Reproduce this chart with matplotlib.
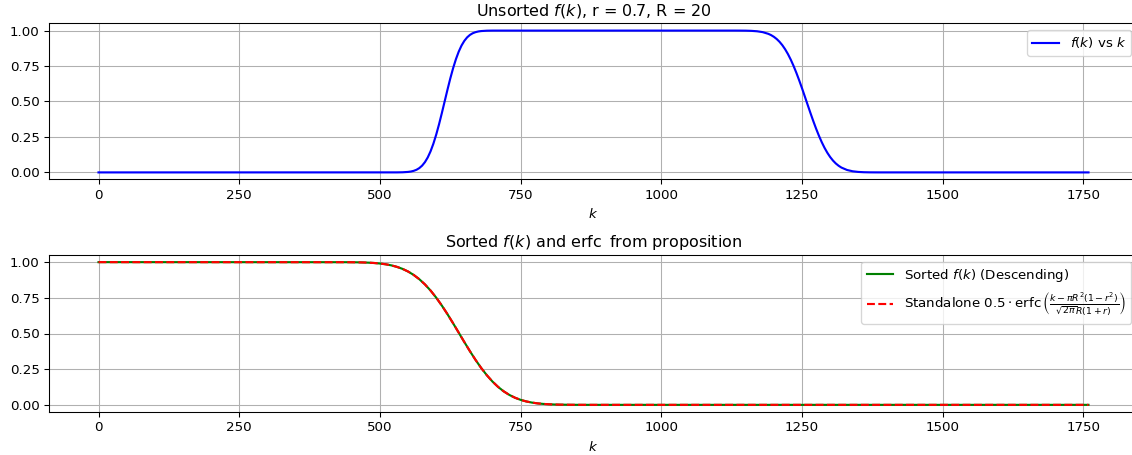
import matplotlib
matplotlib.use("Agg")
import matplotlib.pyplot as plt

# ---- data ----
top_k = [0,
         530, 540, 550, 555, 560, 565, 570, 575, 580, 585, 590, 595, 600, 605, 610,
         615, 620, 625, 630, 635, 640, 645, 650, 655, 660, 665, 670, 675, 680, 690,
         700,
         1130, 1140, 1150, 1160, 1170, 1180, 1190, 1195, 1200, 1205, 1210, 1215,
         1220, 1225, 1230, 1235, 1240, 1245, 1250, 1255, 1260, 1265, 1270, 1275,
         1280, 1285, 1290, 1295, 1300, 1305, 1310, 1315, 1320, 1330, 1340, 1350,
         1360, 1370, 1380, 1390,
         1759]
top_f = [0.0,
         0.0002, 0.0009, 0.0034, 0.0062, 0.0110, 0.0186, 0.0304, 0.0478, 0.0724,
         0.1056, 0.1488, 0.2024, 0.2660, 0.3384, 0.4176, 0.5000, 0.5824, 0.6616,
         0.7340, 0.7976, 0.8512, 0.8944, 0.9276, 0.9522, 0.9696, 0.9814, 0.9890,
         0.9938, 0.9966, 0.9991, 0.9998,
         0.9999, 0.9997, 0.9993, 0.9980, 0.9952, 0.9891, 0.9772, 0.9681, 0.9560,
         0.9405, 0.9210, 0.8971, 0.8682, 0.8342, 0.7950, 0.7505, 0.7016, 0.6488,
         0.5930, 0.5351, 0.4765, 0.4184, 0.3620, 0.3085, 0.2588, 0.2136, 0.1733,
         0.1383, 0.1084, 0.0835, 0.0631, 0.0469, 0.0341, 0.0171, 0.0079, 0.0034,
         0.0013, 0.0005, 0.0002, 0.0001,
         0.0]

sorted_k = [0, 440, 450, 460, 470, 480, 490, 500, 510, 520, 530, 540, 550, 560,
            570, 580, 590, 600, 610, 620, 630, 640, 650, 660, 670, 680, 690, 700,
            710, 720, 730, 740, 750, 760, 770, 780, 790, 800, 810, 820, 840, 860,
            880, 1759]
sorted_f = [1.0, 0.99957, 0.99923, 0.99866, 0.99772, 0.99622, 0.99388, 0.99033,
            0.98511, 0.97763, 0.96719, 0.95303, 0.93435, 0.91036, 0.88040,
            0.84400, 0.80095, 0.75143, 0.69602, 0.63570, 0.57182, 0.50598,
            0.43999, 0.37563, 0.31455, 0.25817, 0.20754, 0.16330, 0.12569,
            0.09459, 0.06957, 0.04998, 0.03507, 0.02402, 0.01606, 0.01047,
            0.00666, 0.00413, 0.00250, 0.00147, 0.00047, 0.00014, 0.00004, 0.0]
erfc_f = [1.0, 0.99957, 0.99923, 0.99866, 0.99772, 0.99622, 0.99388, 0.99033,
          0.98511, 0.97763, 0.96719, 0.95303, 0.93435, 0.91036, 0.88040,
          0.84400, 0.80095, 0.75143, 0.69602, 0.63570, 0.57182, 0.50598,
          0.43999, 0.37563, 0.31455, 0.25817, 0.20754, 0.16330, 0.12569,
          0.09459, 0.06957, 0.04998, 0.03507, 0.02402, 0.01606, 0.01047,
          0.00666, 0.00413, 0.00250, 0.00147, 0.00047, 0.00014, 0.00004, 0.0]

x_ticks = [0, 250, 500, 750, 1000, 1250, 1500, 1750]
y_ticks = [0.0, 0.25, 0.5, 0.75, 1.0]

top_title = r"Unsorted $f(k)$, r = 0.7, R = 20"
bottom_title = r"Sorted $f(k)$ and $\operatorname{erfc}$ from proposition"
label_top = r"$f(k)$ vs $k$"
label_sorted = r"Sorted $f(k)$ (Descending)"
label_erfc = (r"Standalone $0.5 \cdot \operatorname{erfc}\left(\frac{k - \pi R^2(1 - r^2)}"
              r"{\sqrt{2\pi} R(1 + r)}\right)$")

DPI = 96
fig = plt.figure(figsize=(1132 / DPI, 455 / DPI), dpi=DPI)

left = 49 / 1132
width = (1138 - 49) / 1132
ax1 = fig.add_axes([left, 1 - 179.5 / 455, width, 156 / 455])
ax2 = fig.add_axes([left, 1 - 412 / 455, width, 157 / 455])

ax1.plot(top_k, top_f, color="blue", lw=1.6, label=label_top)
ax1.set_title(top_title)
ax1.set_xlabel(r"$k$")
ax1.grid(True)
ax1.legend(loc="upper right")

ax2.plot(sorted_k, sorted_f, color="green", lw=1.6, label=label_sorted)
ax2.plot(sorted_k, erfc_f, color="red", linestyle="--", lw=1.6, label=label_erfc)
ax2.set_title(bottom_title)
ax2.set_xlabel(r"$k$")
ax2.grid(True)
ax2.legend(loc="upper right")

for ax in (ax1, ax2):
    ax.set_xticks(x_ticks)
    ax.set_yticks(y_ticks)

fig.savefig("out.png", dpi=DPI)
